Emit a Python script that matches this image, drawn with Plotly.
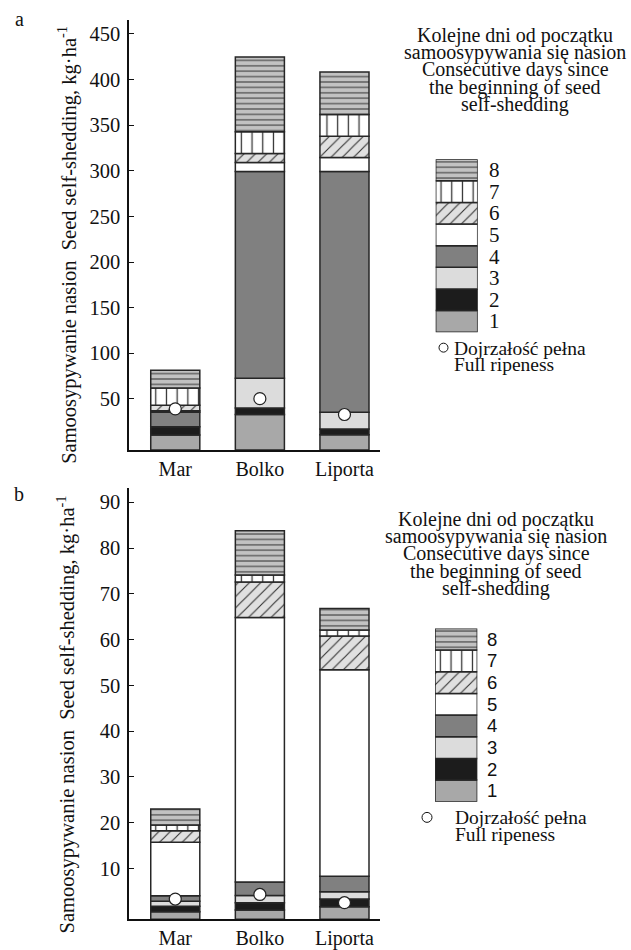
import numpy as np
import plotly.graph_objects as go

W, H = 631, 950

# ---------------------------------------------------------------- data
CULTIVARS = ["Mar", "Bolko", "Liporta"]
DAYS = ["1", "2", "3", "4", "5", "6", "7", "8"]

# seed self-shedding per consecutive day (kg/ha), rows = day 1..8, cols = cultivar
SHED_A = [
    [10.4, 32.9, 10.8],
    [9.1, 7.0, 6.2],
    [0.0, 32.8, 18.3],
    [16.0, 226.6, 264.0],
    [1.5, 9.7, 15.2],
    [6.1, 9.9, 23.2],
    [18.9, 23.9, 24.0],
    [19.3, 81.8, 46.5],
]
SHED_B = [
    [0.5, 0.9, 1.6],
    [1.2, 1.6, 1.7],
    [1.1, 1.6, 1.6],
    [1.2, 2.9, 3.4],
    [11.7, 57.8, 45.1],
    [2.5, 7.8, 7.4],
    [1.3, 1.5, 1.3],
    [3.5, 9.7, 4.7],
]
# cumulative shedding at full ripeness
RIPE_A = [39.1, 50.3, 32.9]
RIPE_B = [3.3, 4.3, 2.5]

TICKS_A = [50, 100, 150, 200, 250, 300, 350, 400, 450]
TICKS_B = [10, 20, 30, 40, 50, 60, 70, 80, 90]

LEGEND_TITLE = [
    "Kolejne dni od początku",
    "samoosypywania się nasion",
    "Consecutive days since",
    "the beginning of seed",
    "self-shedding",
]
RIPE_LABEL = ["Dojrzałość pełna", "Full ripeness"]
Y_TITLE = "Samoosypywanie nasion  Seed self-shedding, kg·ha<sup>-1</sup>"

# ---------------------------------------------------------------- styles
FILL = ["#a8a8a8", "#1c1c1c", "#dcdcdc", "#808080", "#ffffff", "#e0e0e0", "#ffffff", "#c2c2c2"]
PATTERN = [None, None, None, None, None,
           dict(shape="/", size=8, solidity=0.14, fgcolor="#333333"),
           dict(shape="|", size=10.7, solidity=0.12, fgcolor="#333333"),
           dict(shape="-", size=5.4, solidity=0.22, fgcolor="#4a4a4a")]
EDGE = dict(color="#262626", width=1.5)
SERIF = "Liberation Serif, Times New Roman, serif"
SANS = "Liberation Sans, Arial, sans-serif"
INK = "#111111"


def px(x):
    return x / W


def py(y):
    return 1 - y / H


XPOS = np.arange(len(CULTIVARS))
BAR_W = 0.58

fig = go.Figure()


def add_panel(values, ripe, xa, ya):
    vals = np.array(values, dtype=float)
    floor = fig.layout[ya.replace("y", "yaxis")].range[0]
    tops = np.cumsum(vals, axis=0)
    bottoms = np.vstack([np.full(vals.shape[1], floor), tops[:-1]])
    for k in range(len(DAYS)):
        marker = dict(color=FILL[k], line=EDGE)
        if PATTERN[k]:
            marker["pattern"] = dict(PATTERN[k], bgcolor=FILL[k], fillmode="replace")
        fig.add_trace(go.Bar(
            x=XPOS, y=tops[k] - bottoms[k], base=bottoms[k], width=BAR_W,
            marker=marker, name=DAYS[k], showlegend=False,
            xaxis=xa, yaxis=ya, hoverinfo="skip"))
    fig.add_trace(go.Scatter(
        x=XPOS, y=ripe, mode="markers", showlegend=False,
        marker=dict(size=12, color="white", line=dict(color="#222222", width=1.2)),
        xaxis=xa, yaxis=ya))


def add_key(xa, ya):
    for k in range(len(DAYS)):
        marker = dict(color=FILL[k], line=EDGE)
        if PATTERN[k]:
            marker["pattern"] = dict(PATTERN[k], bgcolor=FILL[k], fillmode="replace")
        fig.add_trace(go.Bar(
            x=[0], y=[1], base=[k], width=1, marker=marker, showlegend=False,
            xaxis=xa, yaxis=ya, hoverinfo="skip"))


# ---------------------------------------------------------------- axes
XRANGE = [-0.547, 2.42]
XDOM = [px(129), px(380)]

common_y = dict(showline=True, linecolor=INK, linewidth=1.5, ticks="inside",
                ticklen=5, tickwidth=1.2, tickcolor=INK, showgrid=False,
                zeroline=False, tickfont=dict(family=SERIF, size=20.5, color=INK),
                ticklabelstandoff=3)
common_x = dict(showline=True, linecolor=INK, linewidth=1.5, ticks="",
                showgrid=False, zeroline=False, range=XRANGE, domain=XDOM,
                tickvals=list(XPOS), ticktext=CULTIVARS,
                tickfont=dict(family=SERIF, size=20, color=INK))
key_ax = dict(visible=False, showgrid=False, zeroline=False, fixedrange=True)

fig.update_layout(
    width=W, height=H, margin=dict(l=0, r=0, t=0, b=0),
    paper_bgcolor="white", plot_bgcolor="rgba(0,0,0,0)",
    barmode="overlay", showlegend=False,
    xaxis=dict(common_x, anchor="y"),
    yaxis=dict(common_y, anchor="x", domain=[py(452.3), py(20)],
               range=[-5.9, 465.3], tickvals=TICKS_A),
    xaxis2=dict(common_x, anchor="y2"),
    yaxis2=dict(common_y, anchor="x2", domain=[py(924), py(490.7)],
                range=[-1.09, 93.1], tickvals=TICKS_B),
    xaxis3=dict(key_ax, anchor="y3", domain=[px(435.7), px(477.7)], range=[-0.5, 0.5]),
    yaxis3=dict(key_ax, anchor="x3", domain=[py(334), py(160)], range=[0, 8]),
    xaxis4=dict(key_ax, anchor="y4", domain=[px(435), px(477.3)], range=[-0.5, 0.5]),
    yaxis4=dict(key_ax, anchor="x4", domain=[py(806), py(631.7)], range=[0, 8]),
)

add_panel(SHED_A, RIPE_A, "x", "y")
add_panel(SHED_B, RIPE_B, "x2", "y2")
add_key("x3", "y3")
add_key("x4", "y4")

# ---------------------------------------------------------------- text
ann = []


def text(x, y, s, size=19, family=SERIF, xanchor="center", yanchor="middle", **kw):
    ann.append(dict(x=px(x), y=py(y), xref="paper", yref="paper", text=s,
                    showarrow=False, xanchor=xanchor, yanchor=yanchor,
                    font=dict(family=family, size=size, color=INK), **kw))


text(19, 19, "a", size=20)
text(19, 497, "b", size=20)

text(68, 24, Y_TITLE, size=20.5, yanchor="top", textangle=-90)
text(66, 496, Y_TITLE, size=20.5, yanchor="top", textangle=-90)

for i, line in enumerate(LEGEND_TITLE):
    text(515, 35.5 + 17.4 * i, line, size=20)
    text(496, 522 + 17.4 * i, line, size=20)

for k, d in enumerate(DAYS):
    ann.append(dict(x=px(487), y=k + 0.5, xref="paper", yref="y3", text=d,
                    showarrow=False, xanchor="left", yanchor="middle",
                    font=dict(family=SERIF, size=21, color=INK)))
    ann.append(dict(x=px(485), y=k + 0.5, xref="paper", yref="y4", text=d,
                    showarrow=False, xanchor="left", yanchor="middle",
                    font=dict(family=SANS, size=18.5, color=INK)))

text(452, 350, RIPE_LABEL[0], size=19.5, xanchor="left")
text(452, 366, RIPE_LABEL[1], size=19.5, xanchor="left")
text(452.7, 821.7, RIPE_LABEL[0], size=19.5, xanchor="left")
text(452.7, 838.5, RIPE_LABEL[1], size=19.5, xanchor="left")

fig.update_layout(annotations=ann)

# key circles for full ripeness
for cx, cy, r in [(443.5, 349.5, 4.5), (427, 821.7, 5)]:
    fig.add_shape(type="circle", xref="paper", yref="paper",
                  x0=px(cx - r), x1=px(cx + r), y0=py(cy + r), y1=py(cy - r),
                  line=dict(color=INK, width=1), fillcolor="white")

fig.write_html("out.html")
